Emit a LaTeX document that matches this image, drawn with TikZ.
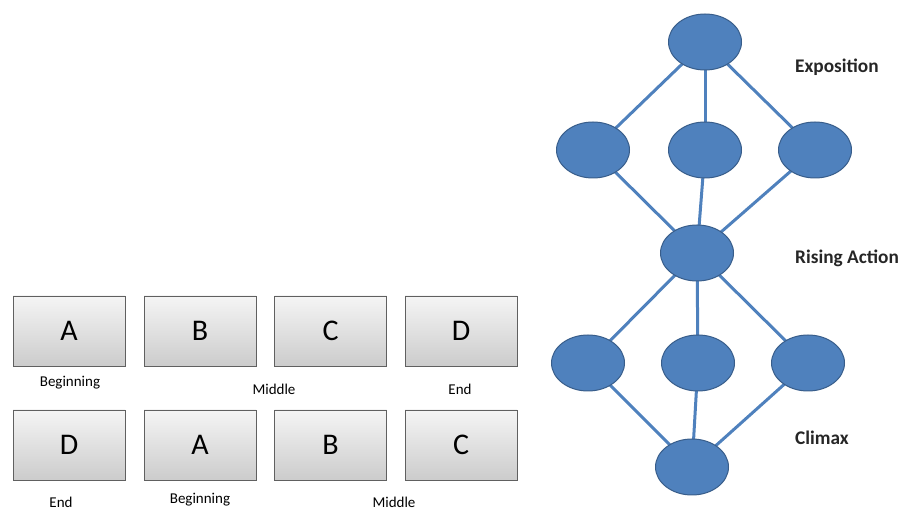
\documentclass[tikz,border=0pt]{standalone}
\usepackage{fontspec}
\setmainfont{Carlito}
\usetikzlibrary{shapes.geometric,backgrounds}
\definecolor{nodeblue}{HTML}{4F81BD}
\definecolor{nodeedge}{HTML}{385D8A}
\tikzset{
  card/.style={draw=gray!75!black, line width=0.8pt, top color=gray!8, bottom color=gray!40,
    minimum width=112pt, minimum height=70pt, inner sep=0pt, font=\fontsize{30}{32}\selectfont},
  lbl/.style={font=\fontsize{15}{17}\selectfont, inner sep=0pt},
  glbl/.style={font=\fontsize{19.3}{21}\selectfont\bfseries, inner sep=0pt, anchor=west, text=black!85},
  dot/.style={ellipse, draw=nodeedge, line width=1pt, fill=nodeblue, minimum width=73pt, minimum height=56pt, inner sep=0pt},
  link/.style={draw=nodeblue, line width=3pt}
}
\begin{document}
\begin{tikzpicture}[x=1pt,y=-1pt]
\useasboundingbox (0,0) rectangle (903,510);
% cards row 1
\node[card] (a1) at (69,331) {A};
\node[card] (b1) at (200,331) {B};
\node[card] (c1) at (330.5,331) {C};
\node[card] (d1) at (461,331) {D};
\node[lbl] (l1) at (70,383) {Beginning};
\node[lbl] (l2) at (274,389) {Middle};
\node[lbl] (l3) at (460,389) {End};
% cards row 2
\node[card] (d2) at (69,445) {D};
\node[card] (a2) at (200,445) {A};
\node[card] (b2) at (330.5,445) {B};
\node[card] (c2) at (461,445) {C};
\node[lbl] (l4) at (61,502) {End};
\node[lbl] (l5) at (200,500) {Beginning};
\node[lbl] (l6) at (394,502) {Middle};
% graph
\node[dot] (t) at (705,42) {};
\node[dot] (m1) at (593,150) {};
\node[dot] (m2) at (705,150) {};
\node[dot] (m3) at (815,150) {};
\node[dot] (r) at (697,253) {};
\node[dot] (n1) at (588,363) {};
\node[dot] (n2) at (698,363) {};
\node[dot] (n3) at (808,363) {};
\node[dot] (b) at (692,467) {};
\begin{pgfonlayer}{background}
\foreach \x in {m1,m2,m3} {\draw[link] (t.center) -- (\x.center); \draw[link] (\x.center) -- (r.center);}
\foreach \x in {n1,n2,n3} {\draw[link] (r.center) -- (\x.center); \draw[link] (\x.center) -- (b.center);}
\end{pgfonlayer}
\node[glbl] (e1) at (795,67) {Exposition};
\node[glbl] (e2) at (795,258) {Rising Action};
\node[glbl] (e3) at (795,438) {Climax};
\end{tikzpicture}
\end{document}
